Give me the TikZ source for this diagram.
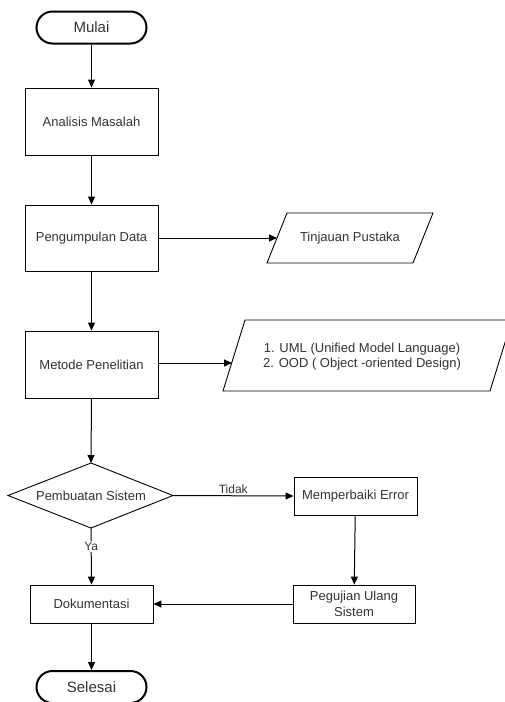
\documentclass[tikz,border=0pt]{standalone}
\usepackage{fontspec}
\setmainfont{Liberation Sans}
\usetikzlibrary{arrows.meta}
\definecolor{txt}{HTML}{333333}
\tikzset{
  every node/.style={font=\fontsize{13}{15}\selectfont, text=txt},
  box/.style={draw=black, line width=0.9pt, rectangle, align=center, inner sep=2pt},
  term/.style={draw=black, line width=2pt, rectangle, rounded corners=16pt, minimum width=110pt, minimum height=32pt, font=\fontsize{15}{17}\selectfont},
  para/.style={draw=black, line width=0.9pt},
  arr/.style={-{Stealth[length=8pt,width=7pt,inset=0pt]}, line width=1pt, draw=black},
  lbl/.style={font=\fontsize{12}{14}\selectfont, fill=white, inner sep=1pt}
}
\begin{document}
\begin{tikzpicture}[x=1pt,y=-1pt]
\clip (0,0) rectangle (505,702);
\fill[white] (0,0) rectangle (505,702);

\node[term] (mulai) at (91.5,27.5) {Mulai};
\node[box, minimum width=133pt, minimum height=67pt] (analisis) at (91.5,121.5) {Analisis Masalah};
\node[box, minimum width=133pt, minimum height=66pt] (kumpul) at (91.5,238) {Pengumpulan Data};
\node[box, minimum width=133pt, minimum height=67pt] (metode) at (91.5,364.5) {Metode Penelitian};

% parallelograms
\draw[para] (287,213) -- (433,213) -- (413,263) -- (267,263) -- cycle;
\node (tinjauan) at (350,238) {Tinjauan Pustaka};
\coordinate (tinL) at (277,238);

\draw[para] (245,320) -- (512,320) -- (490,391) -- (223,391) -- cycle;
\node[align=center] (uml) at (362,356.5) {1. UML (Unified Model Language)\\2. OOD ( Object -oriented Design)};
\coordinate (umlL) at (232,363);
\coordinate (metR) at (158,363);

% diamond
\draw[line width=0.9pt] (91,463) -- (173,495.5) -- (91,528) -- (8,495.5) -- cycle;
\node (buat) at (91,495.5) {Pembuatan Sistem};
\coordinate (dTop) at (91,463);
\coordinate (dRight) at (173,495.5);
\coordinate (dBot) at (91,528);

\node[box, minimum width=123pt, minimum height=38pt] (perbaiki) at (355.5,496) {Memperbaiki Error};
\node[box, minimum width=122pt, minimum height=38pt, align=center, font=\fontsize{13}{16}\selectfont] (uji) at (354,604) {Pegujian Ulang\\Sistem};
\node[box, minimum width=123pt, minimum height=38pt] (dok) at (91.5,604) {Dokumentasi};
\node[term] (selesai) at (91.5,687) {Selesai};

% connectors
\draw[arr] (mulai) -- (analisis);
\draw[arr] (analisis) -- (kumpul);
\draw[arr] (kumpul.east) -- (tinL);
\draw[arr] (kumpul) -- (metode);
\draw[arr] (metR) -- (umlL);
\draw[arr] (metode.south) -- (dTop);
\draw[arr] (dRight) -- node[lbl, above=1pt, fill=none] {Tidak} (perbaiki.west);
\draw[arr] (perbaiki) -- (uji);
\draw[arr] (uji) -- (dok);
\draw[arr] (dBot) -- node[lbl, pos=0.33] {Ya} (dok.north);
\draw[arr] (dok) -- (selesai);
\end{tikzpicture}
\end{document}
